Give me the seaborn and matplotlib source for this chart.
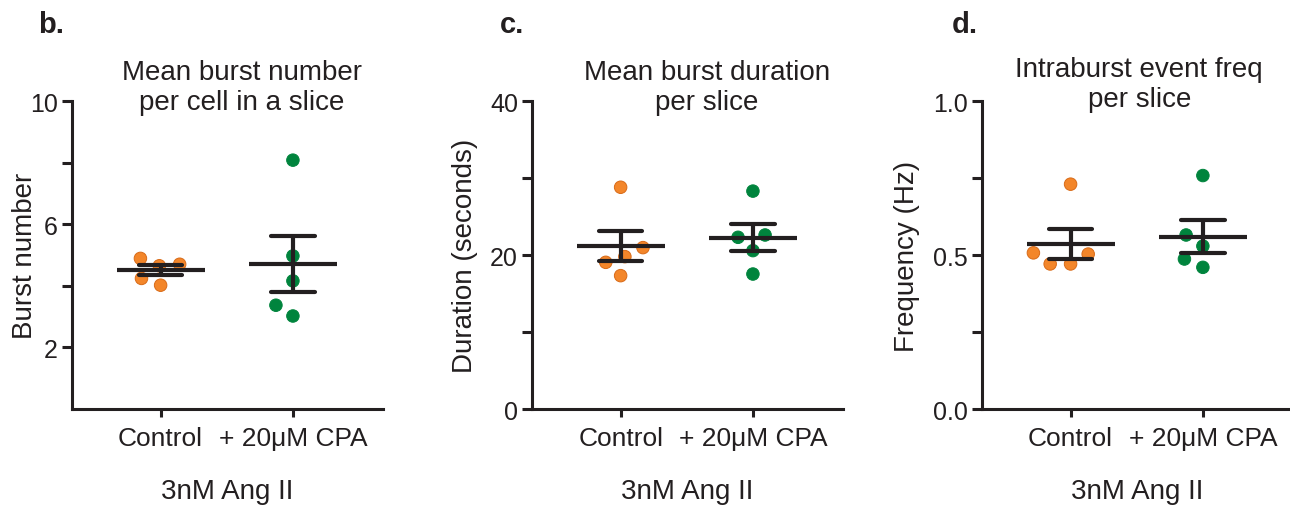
import seaborn as sns
import pandas as pd
import matplotlib.pyplot as plt

# values (5 slices per group)
groups = ['Control', '+ 20\u03bcM CPA']
burst_ctrl = [4.70, 4.65, 4.89, 4.02, 4.24]
burst_cpa = [8.08, 4.97, 4.16, 3.37, 3.02]
dur_ctrl = [28.8, 20.96, 19.79, 19.05, 17.32]
dur_cpa = [28.3, 22.3, 22.6, 20.57, 17.53]
freq_ctrl = [0.730, 0.503, 0.507, 0.471, 0.471]
freq_cpa = [0.758, 0.565, 0.529, 0.487, 0.460]

titles = ['Mean burst number\nper cell in a slice', 'Mean burst duration\nper slice',
          'Intraburst event freq\nper slice']
ylabels = ['Burst number', 'Duration (seconds)', 'Frequency (Hz)']
letters = ['b.', 'c.', 'd.']
yticks = [[2, 4, 6, 8, 10], [0, 10, 20, 30, 40], [0, 0.25, 0.5, 0.75, 1.0]]
yticklabels = [['2', '', '6', '', '10'], ['0', '', '20', '', '40'], ['0.0', '', '0.5', '', '1.0']]
ylims = [(0, 10), (0, 40), (0, 1.0)]

sns.set_theme(style='white')
plt.rcParams['font.family'] = ['Liberation Sans', 'DejaVu Sans']

ink = '#231F20'
orange = '#F3862A'
green = '#00843D'

fig = plt.figure(figsize=(12.9, 5.06), dpi=100)
lefts = [0.0558, 0.4124, 0.7612]
title_x = [0.547, 0.563, 0.506]
title_y = [0.955, 0.955, 0.965]
ylab_x = [-0.11, -0.175, -0.2]
letter_x = [0.0295, 0.3876, 0.738]

datasets = [(burst_ctrl, burst_cpa), (dur_ctrl, dur_cpa), (freq_ctrl, freq_cpa)]
swarms = []

for i, (ctrl, cpa) in enumerate(datasets):
    ax = fig.add_axes([lefts[i], 0.1897, 0.241, 0.6087])
    df = pd.DataFrame({'group': [groups[0]] * len(ctrl) + [groups[1]] * len(cpa),
                       'value': list(ctrl) + list(cpa)})
    # swarm laid out with a bigger dot so the spread looks like the Prism scatter
    sns.swarmplot(data=df, x='group', y='value', hue='group', order=groups,
                  palette=[orange, green], size=13.3, linewidth=0.7,
                  edgecolor=None, legend=False, ax=ax, zorder=2)
    ax.collections[0].set_edgecolor('#D86A17')
    ax.collections[1].set_edgecolor(green)
    swarms += list(ax.collections[:2])
    sns.pointplot(data=df, x='group', y='value', order=groups, errorbar='se',
                  capsize=0.33, color=ink, linestyle='none', marker='_',
                  markersize=63, markeredgewidth=3.0,
                  err_kws={'linewidth': 3.0}, ax=ax, zorder=3)

    ax.set_xlim(-0.67, 1.68)
    ax.set_ylim(*ylims[i])
    ax.set_yticks(yticks[i])
    ax.set_yticklabels(yticklabels[i])
    sns.despine(ax=ax)
    for s in ['left', 'bottom']:
        ax.spines[s].set_linewidth(2.2)
        ax.spines[s].set_color(ink)
    ax.tick_params(axis='y', direction='out', length=7, width=2.2, color=ink,
                   labelsize=18, pad=3, labelcolor=ink, left=True)
    ax.tick_params(axis='x', direction='out', length=6, width=2.2, color=ink,
                   labelsize=19, pad=6, labelcolor=ink, bottom=True)
    ax.set_xlabel('3nM Ang II', fontsize=20, color=ink)
    ax.xaxis.set_label_coords(0.5, -0.225)
    ax.set_ylabel(ylabels[i], fontsize=20, color=ink)
    ax.yaxis.set_label_coords(ylab_x[i], 0.5)
    ax.text(title_x[i], title_y[i], titles[i], transform=ax.transAxes,
            ha='center', va='bottom', fontsize=20, color=ink, clip_on=False)
    fig.text(letter_x[i], 0.935, letters[i], fontsize=21, fontweight='bold',
             color=ink, va='baseline', ha='left')

# run the swarm layout once, then freeze it and shrink the dots
fig.canvas.draw()
for pts in swarms:
    if 'draw' in pts.__dict__:
        del pts.draw
    pts.set_sizes([9.0 ** 2])

fig.savefig('out.png', dpi=100)
